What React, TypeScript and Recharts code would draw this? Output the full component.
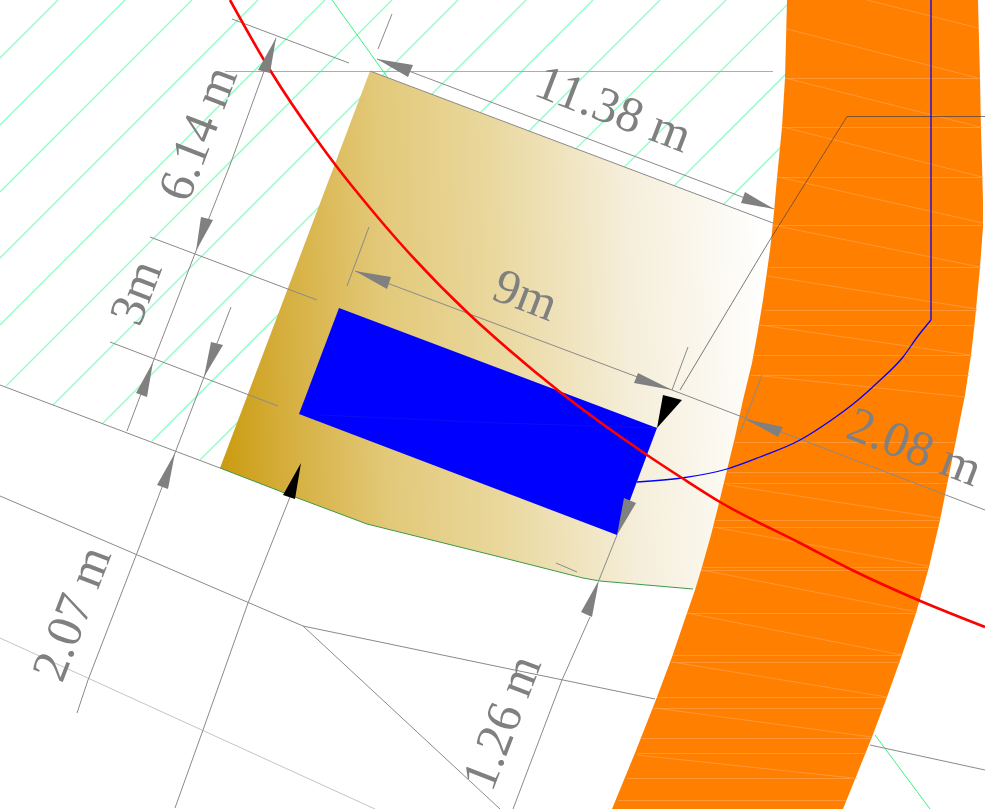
import { ScatterChart, Scatter, XAxis, YAxis } from 'recharts';

type Pt = [number, number];

const WIDTH = 985;
const HEIGHT = 809;

const hatchLines: Pt[][] = [
  [[0, 58], [58, 0]],
  [[0, 125], [125, 0]],
  [[0, 192], [192, 0]],
  [[0, 258], [258, 0]],
  [[0, 325], [325, 0]],
  [[6, 386], [392, 0]],
  [[53, 405], [458, 0]],
  [[103, 423], [526, 0]],
  [[152, 441], [593, 0]],
  [[200, 460], [660, 0]],
  [[245, 477], [726, 0]],
  [[300, 490], [792, 0]],
  [[400, 460], [860, 0]],
  [[500, 428], [928, 0]],
];

const greenLines: Pt[][] = [
  [[225, 71.5], [773, 71.5]],
  [[332, 0], [388, 78]],
  [[875, 735], [930, 809]],
];

const plotOutline: Pt[] = [
  [370, 71], [773, 223], [800, 223], [800, 589], [693, 589], [600, 581], [583, 578], [500, 557],
  [367, 524], [295, 497], [220, 468],
];
const plotBottomEdge: Pt[] = [
  [220, 468], [295, 497], [367, 524], [500, 557], [583, 578], [600, 581], [693, 589],
];

const roadBand: Pt[] = [
  [787, 0], [786, 40], [785, 78], [782, 127], [777, 178], [773, 223], [770, 250], [763, 300],
  [758, 330], [752, 363], [743, 400], [735, 437], [727, 470], [719, 503], [711, 535],
  [702, 567], [695, 590], [687, 613], [672, 657], [657, 697], [635, 753], [612, 809],
  [843, 809], [872, 737], [887, 697], [902, 655], [916, 613], [929, 567], [940, 520],
  [950, 470], [958, 430], [965, 395], [971, 355], [975, 320], [980, 267], [983, 227],
  [983, 200], [981, 130], [980, 78], [978, 0],
];

const roadStreaks: Pt[][] = [
  [[867, 0], [978, 28]],
  [[787, 29], [978, 78]],
  [[785, 78], [980, 127]],
  [[783, 127], [982, 177]],
  [[778, 177], [983, 223]],
  [[772, 225], [980, 267]],
  [[768, 276], [977, 309]],
  [[760, 325], [970, 355]],
  [[753, 375], [965, 397]],
  [[727, 485], [940, 518]],
  [[713, 527], [928, 566]],
  [[702, 570], [917, 612]],
  [[687, 613], [902, 655]],
  [[672, 662], [887, 697]],
  [[655, 708], [872, 737]],
  [[637, 755], [853, 778]],
  [[785, 78.5], [980, 78.5]],
  [[782, 127.5], [982, 127.5]],
  [[777, 177.5], [983, 177.5]],
  [[773, 225.5], [983, 225.5]],
  [[769, 267.5], [981, 267.5]],
  [[765, 310.5], [977, 310.5]],
  [[758, 325.5], [975, 325.5]],
  [[753, 355.5], [972, 355.5]],
  [[751, 375.5], [969, 375.5]],
  [[735, 442.5], [956, 442.5]],
  [[728, 472.5], [949, 472.5]],
  [[725, 483.5], [947, 483.5]],
  [[716, 520.5], [940, 520.5]],
  [[714, 527.5], [938, 527.5]],
  [[703, 567.5], [928, 567.5]],
  [[701, 570.5], [927, 570.5]],
  [[687, 613.5], [916, 613.5]],
  [[673, 655.5], [902, 655.5]],
  [[671, 662.5], [900, 662.5]],
  [[657, 697.5], [887, 697.5]],
  [[653, 708.5], [883, 708.5]],
  [[642, 738.5], [872, 738.5]],
  [[637, 753.5], [866, 753.5]],
  [[627, 778.5], [857, 778.5]],
  [[618, 800.5], [846, 800.5]],
];

const buildingBlock: Pt[] = [[339, 308], [657, 428], [617, 535], [299, 414]];
const blockSeam: Pt[] = [[320, 415], [500, 423], [657, 428]];

const greyLines: Pt[][] = [
  [[232, 19], [349, 63]],
  [[276, 38], [230, 165], [196, 251], [153, 362], [127, 431]],
  [[150, 237], [317, 300]],
  [[110, 342], [278, 406]],
  [[231, 307], [204, 377], [175, 453], [137, 553], [88, 680], [77, 713]],
  [[0, 385], [220, 468]],
  [[0, 496], [303, 626], [500, 667], [655, 699]],
  [[870, 745], [985, 770]],
  [[303, 626], [500, 809]],
  [[290, 497], [248, 603], [203, 730], [175, 808]],
  [[599, 580], [617, 535]],
  [[590, 617], [562, 680], [513, 809]],
  [[377, 59], [774, 209]],
  [[378, 49], [392, 14]],
  [[370, 71], [773, 223]],
  [[347, 286], [369, 227]],
  [[355, 271], [672, 390], [985, 510]],
  [[688, 347], [672, 390]],
  [[762, 375], [740, 433]],
  [[556, 563], [577, 572]],
];
const paleGreyLines: Pt[][] = [[[0, 638], [375, 809]]];
const leaderLine: Pt[] = [[985, 116.5], [847, 116.5], [768, 243], [680, 390]];

const redCurve: Pt[] = [
  [230, 0], [270, 70], [317, 140], [337, 167], [370, 208], [400, 243], [470, 315], [500, 342],
  [560, 392], [647, 455], [682, 478], [720, 502], [800, 543], [852, 570], [918, 600], [985, 627],
];
const blueStem: Pt[] = [[931, 0], [931, 320]];
const blueArc: Pt[] = [
  [637, 482], [682, 478], [727, 469], [760, 457], [800, 440], [830, 421], [858, 400], [877, 383],
  [903, 357], [918, 336], [931, 320],
];

const greyArrows: Pt[][] = [
  [[276, 38], [258, 70], [270, 73]],
  [[196, 251], [201, 217], [213, 220]],
  [[153, 362], [136, 393], [147, 397]],
  [[204, 377], [211, 342], [223, 345]],
  [[377, 59], [413, 65], [408, 77]],
  [[774, 209], [745, 192], [741, 203]],
  [[355, 271], [391, 277], [387, 289]],
  [[672, 390], [638, 373], [634, 383]],
  [[745, 419], [783, 427], [778, 437]],
  [[617, 535], [624, 498], [636, 503]],
  [[599, 580], [581, 612], [592, 617]],
  [[175, 453], [157, 485], [168, 489]],
];
const blackArrows: Pt[][] = [
  [[657, 428], [663, 395], [682, 400]],
  [[301, 463], [283, 495], [295, 499]],
];

const dimLabels = ['11.38 m', '6.14 m', '3m', '9m', '2.08 m', '2.07 m', '1.26 m'];
const dimLabelAnchors: Pt[] = [
  [614, 108], [197, 133], [135, 292], [526, 294], [915, 446], [71, 613], [501, 722],
];
const dimLabelAngles = [21, -69, -69, 21, 21, -69, -69];

const toPoints = (pts: Pt[]) => pts.map(([x, y]) => ({ x, y }));
const noDot = () => <g />;

const series = (pts: Pt[], key: string, stroke: string, width: number, fill = 'none', curve = 'linear') => (
  <Scatter
    key={key}
    data={toPoints(pts)}
    line={{ stroke, strokeWidth: width, fill }}
    lineType="joint"
    lineJointType={curve as any}
    shape={noDot}
    isAnimationActive={false}
  />
);

const DimLabel = (props: any) => {
  const { cx, cy, payload } = props;
  return (
    <text
      x={cx}
      y={cy}
      transform={`rotate(${payload.angle} ${cx} ${cy})`}
      textAnchor="middle"
      dominantBaseline="central"
      fontFamily="'Liberation Serif', serif"
      fontSize={50}
      fill="#808080"
    >
      {payload.label}
    </text>
  );
};

export default function App() {
  const labelRows = dimLabels.map((label, i) => ({
    label,
    angle: dimLabelAngles[i],
    x: dimLabelAnchors[i][0],
    y: dimLabelAnchors[i][1],
  }));
  return (
    <div style={{ position: 'absolute', left: 0, top: 0, width: WIDTH, height: HEIGHT, background: '#fff', overflow: 'hidden' }}>
      <ScatterChart width={WIDTH} height={HEIGHT} margin={{ top: 0, right: 0, bottom: 0, left: 0 }}>
        <defs>
          <linearGradient id="plotFill" gradientUnits="userSpaceOnUse" x1="220" y1="480" x2="775" y2="460">
            <stop offset="0" stopColor="#cb9b0f" />
            <stop offset="0.12" stopColor="#d5ae3c" />
            <stop offset="0.3" stopColor="#e2c878" />
            <stop offset="0.5" stopColor="#e9d79c" />
            <stop offset="0.75" stopColor="#f5eeda" />
            <stop offset="1" stopColor="#ffffff" />
          </linearGradient>
        </defs>
        <XAxis type="number" dataKey="x" domain={[0, WIDTH]} hide />
        <YAxis type="number" dataKey="y" domain={[0, HEIGHT]} reversed hide />
        {hatchLines.map((l, i) => series(l, `hatch${i}`, '#8dffc4', 1.3))}
        {greenLines.map((l, i) => series(l, `green${i}`, '#3cf07f', 1))}
        {series(plotOutline, 'plot', 'none', 0, 'url(#plotFill)')}
        {series(plotBottomEdge, 'plotEdge', '#3a9a4a', 1)}
        {series(roadBand, 'road', 'none', 0, '#ff7f00')}
        {roadStreaks.map((l, i) => series(l, `streak${i}`, '#ffa24a', 0.7))}
        {series(buildingBlock, 'block', 'none', 0, '#0000ff')}
        {series(blockSeam, 'seam', '#1616e6', 0.6)}
        {paleGreyLines.map((l, i) => series(l, `pale${i}`, '#c4c4c4', 1))}
        {greyLines.map((l, i) => series(l, `grey${i}`, '#8a8a8a', 1))}
        {series(leaderLine, 'leader', '#444444', 0.7)}
        {series(blueStem, 'stem', '#0000ff', 1.3)}
        {series(blueArc, 'arc', '#0000ff', 1.3, 'none', 'monotoneX')}
        {series(redCurve, 'red', '#ff0000', 2.6, 'none', 'monotoneX')}
        {greyArrows.map((l, i) => series(l, `arrow${i}`, 'none', 0, '#808080'))}
        {blackArrows.map((l, i) => series(l, `barrow${i}`, 'none', 0, '#000000'))}
        <Scatter data={labelRows} shape={DimLabel} isAnimationActive={false} />
      </ScatterChart>
    </div>
  );
}
